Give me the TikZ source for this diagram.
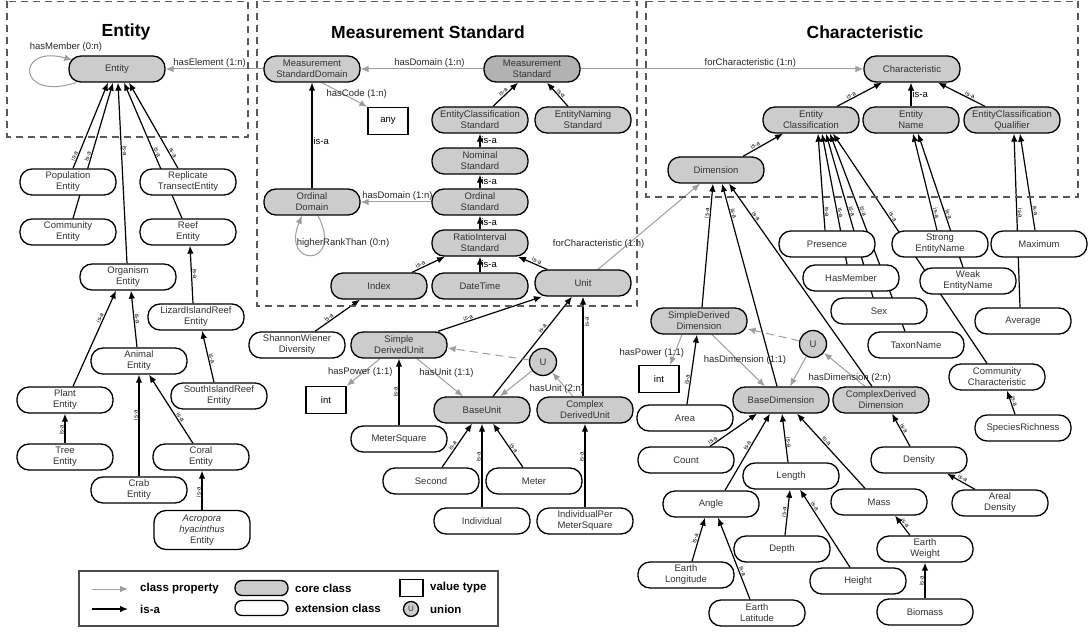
\documentclass[tikz,border=0pt]{standalone}
\usepackage{fontspec}
\setmainfont{Liberation Sans}
\usetikzlibrary{arrows.meta}

\pgfdeclarelayer{bg}
\pgfsetlayers{bg,main}

\definecolor{coregray}{gray}{0.80}
\definecolor{stdgray}{gray}{0.70}
\definecolor{propgray}{gray}{0.62}
\definecolor{boxgray}{gray}{0.35}
\definecolor{txtgray}{gray}{0.20}

\tikzset{
  cls/.style={draw, line width=1.3pt, rounded corners=12pt, minimum width=96pt,
    minimum height=26pt, inner sep=1pt, align=center, text=txtgray,
    font=\fontsize{9.5}{11}\selectfont},
  core/.style={cls, fill=coregray},
  ext/.style={cls, fill=white},
  valtype/.style={draw, line width=1.3pt, fill=white, minimum width=40pt,
    minimum height=27pt, font=\fontsize{9.5}{11}\selectfont},
  unionc/.style={draw, circle, line width=1.3pt, fill=coregray, minimum size=27pt,
    inner sep=0pt, text=txtgray, font=\fontsize{9.5}{11}\selectfont},
  isa/.style={line width=1.2pt, -{Latex[length=8pt,width=6.5pt]}},
  prop/.style={draw=propgray, line width=1pt, -{Latex[length=8pt,width=6.5pt]}},
  lbl/.style={font=\fontsize{6}{6}\selectfont, sloped, above, inner sep=0.8pt},
  hlbl/.style={font=\fontsize{9.5}{10}\selectfont, right, inner sep=1pt},
  plbl/.style={font=\fontsize{9.5}{10}\selectfont, text=black!85, inner sep=1pt},
  grp/.style={draw=boxgray, line width=1.2pt, dash pattern=on 7pt off 5pt},
  ttl/.style={font=\fontsize{17.5}{20}\selectfont\bfseries},
  lgtxt/.style={anchor=west, inner sep=0pt, font=\fontsize{11.5}{13}\selectfont\bfseries}
}

\begin{document}
\begin{tikzpicture}[x=1pt, y=-1pt]
    \useasboundingbox (0,0) rectangle (1089,636);

    % Group boxes and titles
    \draw[grp] (7,1.5) rectangle (248,137);
    \draw[grp] (257,1.5) rectangle (637,306);
    \draw[grp] (646,1.5) rectangle (1078,197);
    \node[ttl] (tent) at (126,32) {Entity};
    \node[ttl] (tms) at (428,32) {Measurement Standard};
    \node[ttl] (tch) at (865,32) {Characteristic};

    % Entity classes
    \node[core] (ent) at (117,69) {Entity};
    \node[ext] (pop) at (68,182) {Population\\Entity};
    \node[ext] (comm) at (68,232) {Community\\Entity};
    \node[ext] (rep) at (188,182) {Replicate\\TransectEntity};
    \node[ext] (reef) at (188,232) {Reef\\Entity};
    \node[ext] (org) at (128,277) {Organism\\Entity};
    \node[ext] (lirf) at (196,317) {LizardIslandReef\\Entity};
    \node[ext] (ani) at (139,361) {Animal\\Entity};
    \node[ext] (sirf) at (219,396) {SouthIslandReef\\Entity};
    \node[ext] (plant) at (65,400) {Plant\\Entity};
    \node[ext] (tree) at (65,457) {Tree\\Entity};
    \node[ext] (coral) at (201,457) {Coral\\Entity};
    \node[ext] (crab) at (139,490) {Crab\\Entity};
    \node[ext, minimum height=39pt] (acro) at (202,530) {\textit{Acropora}\\\textit{hyacinthus}\\Entity};

    % Measurement standard classes
    \node[core] (msd) at (312,69) {Measurement\\StandardDomain};
    \node[core, fill=stdgray] (mstd) at (532,69) {Measurement\\Standard};
    \node[valtype] (any) at (388,121) {any};
    \node[core] (odom) at (312,202) {Ordinal\\Domain};
    \node[core] (ecs) at (480,120) {EntityClassification\\Standard};
    \node[core] (ens) at (583,120) {EntityNaming\\Standard};
    \node[core] (nom) at (480,161) {Nominal\\Standard};
    \node[core] (ords) at (480,202) {Ordinal\\Standard};
    \node[core] (ris) at (480,243) {RatioInterval\\Standard};
    \node[core] (idx) at (379,286) {Index};
    \node[core] (dtime) at (480,286) {DateTime};
    \node[core] (unit) at (583,283) {Unit};

    % Units
    \node[ext] (shw) at (297,345) {ShannonWiener\\Diversity};
    \node[core] (sdu) at (399,345) {Simple\\DerivedUnit};
    \node[valtype] (intu) at (326,400) {int};
    \node[ext] (msq) at (399,439) {MeterSquare};
    \node[core] (bu) at (482,410) {BaseUnit};
    \node[unionc] (uu) at (543,362) {U};
    \node[core] (cdu) at (585,410) {Complex\\DerivedUnit};
    \node[ext] (sec) at (431,481) {Second};
    \node[ext] (met) at (534,481) {Meter};
    \node[ext] (indiv) at (482,521) {Individual};
    \node[ext] (ipms) at (585,521) {IndividualPer\\MeterSquare};

    % Characteristic classes
    \node[core] (char) at (912,69) {Characteristic};
    \node[core] (ec) at (811,120) {Entity\\Classification};
    \node[core] (en) at (911,120) {Entity\\Name};
    \node[core] (ecq) at (1012,120) {EntityClassification\\Qualifier};
    \node[core] (dim) at (716,170) {Dimension};
    \node[ext] (pres) at (827,244) {Presence};
    \node[ext] (hasm) at (851,278) {HasMember};
    \node[ext] (sex) at (879,311) {Sex};
    \node[ext] (taxon) at (916,345) {TaxonName};
    \node[ext] (strong) at (940,244) {Strong\\EntityName};
    \node[ext] (weak) at (968,281) {Weak\\EntityName};
    \node[ext] (maxi) at (1039,244) {Maximum};
    \node[ext] (avg) at (1023,321) {Average};
    \node[ext] (commc) at (997,377) {Community\\Characteristic};
    \node[ext] (spec) at (1023,428) {SpeciesRichness};

    % Dimensions
    \node[core] (sdd) at (699,321) {SimpleDerived\\Dimension};
    \node[valtype] (intd) at (659,379) {int};
    \node[ext] (area) at (685,418) {Area};
    \node[core] (bd) at (781,400) {BaseDimension};
    \node[unionc] (ud) at (813,344) {U};
    \node[core] (cdd) at (881,400) {ComplexDerived\\Dimension};
    \node[ext] (count) at (686,460) {Count};
    \node[ext] (angle) at (711,504) {Angle};
    \node[ext] (length) at (791,476) {Length};
    \node[ext] (mass) at (879,502) {Mass};
    \node[ext] (density) at (919,460) {Density};
    \node[ext] (areal) at (1000,503) {Areal\\Density};
    \node[ext] (depth) at (782,549) {Depth};
    \node[ext] (height) at (858,581) {Height};
    \node[ext] (eweight) at (925,549) {Earth\\Weight};
    \node[ext] (biomass) at (925,612) {Biomass};
    \node[ext] (elong) at (686,575) {Earth\\Longitude};
    \node[ext] (elat) at (757,613) {Earth\\Latitude};

    % Loop labels
    \node[plbl] (hmlbl) at (66,47) {hasMember (0:n)};
    \node[plbl] (hrlbl) at (343,243) {higherRankThan (0:n)};

    \begin{pgfonlayer}{bg}
    % is-a links, Entity
    \draw[isa] ([xshift=5]pop.north) -- node[lbl, pos=.13] {is-a} ([xshift=-9]ent.south);
    \draw[isa] ([xshift=5]comm.north) -- node[lbl, pos=.45] {is-a} ([xshift=-4]ent.south);
    \draw[isa] ([xshift=-1]org.north) -- node[lbl, pos=.62] {is-a} ([xshift=1]ent.south);
    \draw[isa] ([xshift=-6]reef.north) -- node[lbl, pos=.48] {is-a} ([xshift=7]ent.south);
    \draw[isa] ([xshift=-10]rep.north) -- node[lbl, pos=.16] {is-a} ([xshift=12]ent.south);
    \draw[isa] ([xshift=8]plant.north) -- node[lbl, pos=.7] {is-a} ([xshift=-12]org.south);
    \draw[isa] ([xshift=-2]ani.north) -- node[lbl, pos=.5] {is-a} ([xshift=3]org.south);
    \draw[isa] ([xshift=-3]lirf.north) -- node[lbl, pos=.5] {is-a} ([xshift=2]reef.south);
    \draw[isa] ([xshift=-5]sirf.north) -- node[lbl, pos=.45] {is-a} ([xshift=6]lirf.south);
    \draw[isa] (tree.north) -- node[lbl, pos=.45] {is-a} (plant.south);
    \draw[isa] (crab.north) -- node[lbl, pos=.6] {is-a} (ani.south);
    \draw[isa] ([xshift=-8]coral.north) -- node[lbl, pos=.35] {is-a} ([xshift=10]ani.south);
    \draw[isa] (acro.north) -- node[lbl, pos=.45] {is-a} (acro.north |- coral.south);

    % class properties, top row
    \draw[prop] ([xshift=-41]ent.south) .. controls (16,102) and (16,44) .. ([xshift=4,yshift=9]ent.west);
    \draw[prop] (msd.west) -- node[plbl, pos=.55, above] {hasElement (1:n)} (ent.east);
    \draw[prop] (mstd.west) -- node[plbl, pos=.44, above] {hasDomain (1:n)} (msd.east);
    \draw[prop] (mstd.east) -- node[plbl, pos=.6, above] {forCharacteristic (1:n)} (char.west);
    \draw[prop] ([xshift=10]msd.south) -- node[plbl, pos=.48, xshift=13] {hasCode (1:n)} (any.north west);
    \draw[prop] (ords.west) -- node[plbl, pos=.48, above] {hasDomain (1:n)} (odom.east);
    \draw[prop] ([xshift=6]odom.south) .. controls (345,268) and (280,268) .. ([xshift=-10]odom.south);

    % is-a links, measurement standard
    \draw[isa] (odom.north) -- node[hlbl, pos=.45] {is-a} (msd.south);
    \draw[isa] ([xshift=13]ecs.north) -- node[lbl, pos=.5] {is-a} ([xshift=-14]mstd.south);
    \draw[isa] ([xshift=-15]ens.north) -- node[lbl, pos=.45] {is-a} ([xshift=15]mstd.south);
    \draw[isa] (nom.north) -- node[hlbl] {is-a} (ecs.south);
    \draw[isa] (ords.north) -- node[hlbl] {is-a} (nom.south);
    \draw[isa] (ris.north) -- node[hlbl] {is-a} (ords.south);
    \draw[isa] (dtime.north) -- node[hlbl] {is-a} (ris.south);
    \draw[isa] ([xshift=33]idx.north) -- node[lbl, pos=.3] {is-a} ([xshift=-35]ris.south);
    \draw[isa] ([xshift=-36]unit.north) -- node[lbl, pos=.4] {is-a} ([xshift=38]ris.south);

    % Units
    \draw[prop] ([xshift=15]unit.north) -- node[plbl, pos=.29, xshift=-29] {forCharacteristic (1:n)} ([xshift=-16]dim.south);
    \draw[isa] ([xshift=18]shw.north) -- node[lbl, pos=.35] {is-a} ([xshift=-19]idx.south);
    \draw[isa] ([xshift=39]sdu.north) -- node[lbl, pos=.3] {is-a} ([xshift=-41]unit.south);
    \draw[isa] (msq.north) -- node[lbl, pos=.5] {is-a} (sdu.south);
    \draw[isa] ([xshift=11]bu.north) -- node[lbl, pos=.66] {is-a} ([xshift=-11]unit.south);
    \draw[isa] ([xshift=-2]cdu.north) -- node[lbl, pos=.75, below] {is-a} (unit.south);
    \draw[isa] ([xshift=11]sec.north) -- node[lbl, pos=.45] {is-a} ([xshift=-10]bu.south);
    \draw[isa] (indiv.north) -- node[lbl, pos=.6] {is-a} (bu.south);
    \draw[isa] ([xshift=-11]met.north) -- node[lbl, pos=.4] {is-a} ([xshift=11]bu.south);
    \draw[isa] (ipms.north) -- node[lbl, pos=.6] {is-a} (ipms.north |- cdu.south);
    \draw[prop] ([xshift=-19]sdu.south) -- node[plbl, pos=.5, xshift=-3] {hasPower (1:1)} (intu.north east);
    \draw[prop] ([xshift=18]sdu.south) -- node[plbl, pos=.38, xshift=12] {hasUnit (1:1)} ([xshift=-19]bu.north);
    \draw[prop, dash pattern=on 8pt off 5pt] (uu) -- ([yshift=-3]sdu.east);
    \draw[prop] (uu) -- ([xshift=18]bu.north);
    \draw[prop] ([xshift=-12]cdu.north) -- node[plbl, pos=.3, xshift=-10] {hasUnit (2:n)} (uu);

    % is-a links, characteristic
    \draw[isa] ([xshift=26]ec.north) -- node[lbl, pos=.35] {is-a} ([xshift=-30]char.south);
    \draw[isa] (en.north) -- node[hlbl] {is-a} (en.north |- char.south);
    \draw[isa] ([xshift=-27]ecq.north) -- node[lbl, pos=.35] {is-a} ([xshift=26]char.south);
    \draw[isa] ([xshift=27]dim.north) -- node[lbl, pos=.35] {is-a} ([xshift=-28]ec.south);
    \draw[isa] ([xshift=-2]pres.north) -- node[lbl, pos=.19] {is-a} ([xshift=7]ec.south);
    \draw[isa] ([xshift=-4]hasm.north) -- node[lbl, pos=.39] {is-a} ([xshift=11]ec.south);
    \draw[isa] ([xshift=-6]sex.north) -- node[lbl, pos=.52] {is-a} ([xshift=15]ec.south);
    \draw[isa] ([xshift=-11]taxon.north) -- node[lbl, pos=.6] {is-a} ([xshift=19]ec.south);
    \draw[isa] ([xshift=-10]commc.north) -- node[lbl, pos=.63] {is-a} ([xshift=22]ec.south);
    \draw[isa] ([xshift=-3]strong.north) -- node[lbl, pos=.17] {is-a} ([xshift=2]en.south);
    \draw[isa] ([xshift=-5]weak.north) -- node[lbl, pos=.39] {is-a} ([xshift=7]en.south);
    \draw[isa] ([xshift=-4]maxi.north) -- node[lbl, pos=.2] {is-a} ([xshift=8]ecq.south);
    \draw[isa] ([xshift=-3]avg.north) -- node[lbl, pos=.54] {is-a} ([xshift=2]ecq.south);
    \draw[isa] ([xshift=-8]spec.north) -- node[lbl, pos=.5] {is-a} ([xshift=10]commc.south);

    % Dimensions
    \draw[isa] ([xshift=3]sdd.north) -- node[lbl, pos=.76] {is-a} ([xshift=-3]dim.south);
    \draw[isa] ([xshift=-4]bd.north) -- node[lbl, pos=.85] {is-a} ([xshift=6]dim.south);
    \draw[isa] ([xshift=-9]cdd.north) -- node[lbl, pos=.83] {is-a} ([xshift=13]dim.south);
    \draw[prop] ([xshift=-17]sdd.south) -- node[plbl, pos=.6, xshift=-23] {hasPower (1:1)} ([xshift=11]intd.north);
    \draw[isa] ([xshift=2]area.north) -- node[lbl, pos=.35] {is-a} ([xshift=-2]sdd.south);
    \draw[prop] ([xshift=13]sdd.south) -- node[plbl, pos=.49, xshift=7] {hasDimension (1:1)} ([xshift=-16]bd.north);
    \draw[prop, dash pattern=on 8pt off 5pt] (ud) -- ([yshift=-8]sdd.east);
    \draw[prop] (ud) -- ([xshift=9]bd.north);
    \draw[prop] ([xshift=-16]cdd.north) -- node[plbl, pos=.25, xshift=-5] {hasDimension (2:n)} (ud);
    \draw[isa] ([xshift=24]count.north) -- node[lbl, pos=.1] {is-a} ([xshift=-24]bd.south);
    \draw[isa] ([xshift=14]angle.north) -- node[lbl, pos=.56] {is-a} ([xshift=-11]bd.south);
    \draw[isa] ([xshift=-3]length.north) -- node[lbl, pos=.4] {is-a} ([xshift=1]bd.south);
    \draw[isa] ([xshift=-14]mass.north) -- node[lbl, pos=.6] {is-a} ([xshift=16]bd.south);
    \draw[isa] ([xshift=-9]density.north) -- node[lbl, pos=.5] {is-a} ([xshift=11]cdd.south);
    \draw[isa] ([xshift=-25]areal.north) -- node[lbl, pos=.5] {is-a} ([xshift=28]density.south);
    \draw[isa] ([xshift=3]depth.north) -- node[lbl, pos=.5] {is-a} ([xshift=-1]length.south);
    \draw[isa] ([xshift=-8]height.north) -- node[lbl, pos=.76] {is-a} ([xshift=9]length.south);
    \draw[isa] ([xshift=-15]eweight.north) -- node[lbl, pos=.5] {is-a} ([xshift=16]mass.south);
    \draw[isa] (biomass.north) -- node[lbl, pos=.5] {is-a} (eweight.south);
    \draw[isa] ([xshift=6]elong.north) -- node[lbl, pos=.5] {is-a} ([xshift=-6]angle.south);
    \draw[isa] ([xshift=-7]elat.north) -- node[lbl, pos=.33] {is-a} ([xshift=7]angle.south);
    \end{pgfonlayer}

    % Legend
    \draw[line width=1.2pt, draw=black!70] (79,571) rectangle (498,626);
    \coordinate (lgpa) at (92,589);
    \coordinate (lgpb) at (128,589);
    \coordinate (lgia) at (92,609);
    \coordinate (lgib) at (128,609);
    \draw[prop] (lgpa) -- (lgpb);
    \draw[isa] (lgia) -- (lgib);
    \node[lgtxt] (lgp) at (140,589) {class property};
    \node[lgtxt] (lgi) at (140,609) {is-a};
    \node[core, minimum width=53pt, minimum height=15pt, rounded corners=7pt] (lgcore) at (261.5,588) {};
    \node[ext, minimum width=53pt, minimum height=15pt, rounded corners=7pt] (lgext) at (261.5,608) {};
    \node[lgtxt] (lgc) at (295,588) {core class};
    \node[lgtxt] (lge) at (295,608) {extension class};
    \node[valtype, minimum width=23pt, minimum height=17pt] (lgval) at (411.5,588) {};
    \node[unionc, minimum size=15pt, font=\fontsize{8}{8}\selectfont] (lgu) at (411,609) {U};
    \node[lgtxt] (lgv) at (430,588) {value type};
    \node[lgtxt] (lgn) at (430,609) {union};

\end{tikzpicture}
\end{document}
